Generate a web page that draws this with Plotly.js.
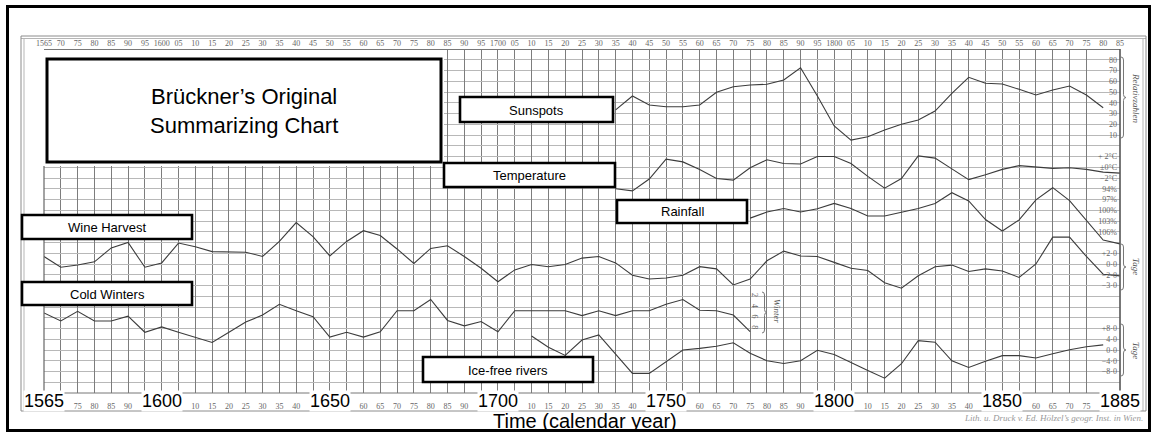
<!DOCTYPE html>
<html>
<head>
<meta charset="utf-8">
<script src="https://cdn.plot.ly/plotly-3.0.1.min.js"></script>
<style>
html,body{margin:0;padding:0;background:#fff;}
#chart{width:1155px;height:432px;}
</style>
</head>
<body>
<div id="chart"></div>
<script>
// ---------------- DATA ----------------
const sunspotYears  = [1735,1740,1745,1750,1755,1760,1765,1770,1775,1780,1785,1790,1795,1800,1805,1810,1815,1820,1825,1830,1835,1840,1845,1850,1855,1860,1865,1870,1875,1880];
const sunspotValues = [33.3,46.3,37.9,36.3,36.3,37.9,49.7,54.9,56.5,57.2,61.2,72.6,46.3,18.4,5.3,8.4,14.7,20.0,24.0,32.3,48.8,63.7,58.1,57.4,52.5,47.2,51.9,55.6,47.2,35.4];

const temperatureYears  = [1735,1740,1745,1750,1755,1760,1765,1770,1775,1780,1785,1790,1795,1800,1805,1810,1815,1820,1825,1830,1835,1840,1845,1850,1855,1860,1865,1870,1875,1880,1885];
const temperatureValues = [-4.0,-4.4,-2.2,1.5,1.0,-0.4,-2.1,-2.4,-0.1,1.4,0.7,0.6,2.0,2.0,0.7,-1.7,-3.9,-2.1,2.1,1.7,-0.3,-2.3,-1.4,-0.4,0.3,0.1,-0.2,-0.1,-0.4,-0.9,-1.1];

const rainfallYears  = [1775,1780,1785,1790,1795,1800,1805,1810,1815,1820,1825,1830,1835,1840,1845,1850,1855,1860,1865,1870,1875,1880,1885];
const rainfallValues = [102.2,100.5,99.5,100.5,99.6,98.1,99.5,101.6,101.6,100.6,99.5,98.1,95.1,97.4,102.6,105.8,102.7,97.1,93.7,97.3,102.7,108.3,109.4];

const wineYears  = [1565,1570,1575,1580,1585,1590,1595,1600,1605,1610,1615,1620,1625,1630,1635,1640,1645,1650,1655,1660,1665,1670,1675,1680,1685,1690,1695,1700,1705,1710,1715,1720,1725,1730,1735,1740,1745,1750,1755,1760,1765,1770,1775,1780,1785,1790,1795,1800,1805,1810,1815,1820,1825,1830,1835,1840,1845,1850,1855,1860,1865,1870,1875,1880,1885];
const wineValues = [1.4,-0.6,-0.2,0.4,3.0,4.0,-0.6,0.2,3.9,3.2,2.3,2.3,2.2,1.4,4.2,7.7,5.1,1.5,4.2,6.2,5.3,2.8,0.1,2.9,3.4,1.4,-0.8,-3.3,-1.1,-0.1,-0.5,-0.1,1.1,1.4,0.2,-2.1,-2.8,-2.6,-2.1,-0.5,-0.9,-3.9,-2.8,0.6,2.4,1.5,1.4,0.3,-0.8,-1.2,-3.5,-4.5,-2.2,-0.5,-0.2,-1.4,-0.9,-1.3,-2.5,0.0,5.0,5.0,1.4,-1.9,-2.2];

const winterYears  = [1565,1570,1575,1580,1585,1590,1595,1600,1605,1610,1615,1620,1625,1630,1635,1640,1645,1650,1655,1660,1665,1670,1675,1680,1685,1690,1695,1700,1705,1710,1715,1720,1725,1730,1735,1740,1745,1750,1755,1760,1765,1770,1775];
const winterValues = [5.1,6.6,4.8,6.6,6.6,5.7,8.7,7.7,8.7,9.6,10.6,8.7,6.8,5.5,3.5,4.7,5.8,9.6,8.7,9.6,8.6,4.7,4.7,2.6,6.5,7.5,6.7,8.6,4.7,4.7,4.7,4.7,5.6,4.7,5.6,4.7,4.7,3.5,2.6,4.6,4.7,5.5,8.6];

const iceYears  = [1710,1715,1720,1725,1730,1735,1740,1745,1750,1755,1760,1765,1770,1775,1780,1785,1790,1795,1800,1805,1810,1815,1820,1825,1830,1835,1840,1845,1850,1855,1860,1865,1870,1875,1880];
const iceValues = [5.2,1.0,-2.0,3.7,5.6,-1.4,-8.7,-8.7,-4.4,0.0,0.6,1.4,2.7,-1.2,-4.0,-5.0,-4.0,-0.1,-1.7,-4.8,-7.6,-10.5,-5.1,3.5,2.9,-4.0,-6.5,-4.2,-2.1,-2.1,-3.0,-1.4,0.1,1.2,1.9];

// tick labels
const topTickYears = [1565,1570,1575,1580,1585,1590,1595,1600,1605,1610,1615,1620,1625,1630,1635,1640,1645,1650,1655,1660,1665,1670,1675,1680,1685,1690,1695,1700,1705,1710,1715,1720,1725,1730,1735,1740,1745,1750,1755,1760,1765,1770,1775,1780,1785,1790,1795,1800,1805,1810,1815,1820,1825,1830,1835,1840,1845,1850,1855,1860,1865,1870,1875,1880];
const topTickText  = ['1565','70','75','80','85','90','95','1600','05','10','15','20','25','30','35','40','45','50','55','60','65','70','75','80','85','90','95','1700','05','10','15','20','25','30','35','40','45','50','55','60','65','70','75','80','85','90','95','1800','05','10','15','20','25','30','35','40','45','50','55','60','65','70','75','80'];
const topEdgeYear = 1885;
const topEdgeText = '85';
const bottomMinorYears = [1575,1580,1585,1590,1610,1615,1620,1625,1630,1635,1640,1660,1665,1670,1675,1680,1685,1690,1710,1715,1720,1725,1730,1735,1740,1760,1765,1770,1775,1780,1785,1790,1810,1815,1820,1825,1830,1835,1840,1860,1865,1870,1875];
const bottomMinorText  = ['75','80','85','90','10','15','20','25','30','35','40','60','65','70','75','80','85','90','10','15','20','25','30','35','40','60','65','70','75','80','85','90','10','15','20','25','30','35','40','60','65','70','75'];
const bottomMajorYears = [1565,1600,1650,1700,1750,1800,1850,1885];
const bottomMajorText  = ['1565','1600','1650','1700','1750','1800','1850','1885'];

const sunspotTickVals = [80,70,60,50,40,30,20,10];
const sunspotTickText = ['80','70','60','50','40','30','20','10'];
const temperatureTickVals = [2,0,-2];
const temperatureTickText = ['+ 2°C','±0°C','−2°C'];
const rainfallTickVals = [94,97,100,103,106];
const rainfallTickText = ['94%','97%','100%','103%','106%'];
const wineTickVals = [2,0,-2,-4];
const wineTickText = ['+2·0','0·0','−2·0','−3·0'];
const winterTickVals = [2,4,6,8];
const winterTickText = ['2','4','6','8'];
const iceTickVals = [8,4,0,-4,-8];
const iceTickText = ['+8·0','4·0','0·0','−4·0','−8·0'];

// ---------------- LAYOUT GEOMETRY ----------------
const W = 1155, H = 432, ML = 44, MR = 35, MT = 49, MB = 39;
const PW = W - ML - MR, PH = H - MT - MB;
const ROWS = 32;                 // horizontal grid rows
const px = x => (x - ML) / PW;   // pixel -> paper
const py = y => (H - MB - y) / PH;

// band scale of each series on the shared grid: value at a reference row, change per row
const scales = {
  sun:   {refRow: 1,  refVal: 80, perRow: -10},
  temp:  {refRow: 10, refVal: 2,  perRow: -2},
  rain:  {refRow: 13, refVal: 94, perRow: 3},
  wine:  {refRow: 19, refVal: 2,  perRow: -2},
  winter:{refRow: 23, refVal: 2,  perRow: 2},
  ice:   {refRow: 26, refVal: 8,  perRow: -4}
};
function axRange(s){
  return [s.refVal + (ROWS - s.refRow) * s.perRow, s.refVal - s.refRow * s.perRow];
}
const smallFont = {family:'Liberation Serif, DejaVu Serif, serif', size:8, color:'#666'};
const vGrid = '#7d7d7d', hGrid = '#b8b8b8';
function seriesAxis(s, vals, text, extra){
  return Object.assign({
    side:'right', range:axRange(s),
    tickmode:'array', tickvals:vals, ticktext:text,
    ticklabelposition:'inside', ticks:'', showgrid:false, zeroline:false, showline:false,
    tickfont:smallFont, fixedrange:true
  }, extra || {});
}

const lineStyle = {color:'#3c3c3c', width:1.1};
const traces = [
  {name:'Wine Harvest', x:wineYears, y:wineValues, xaxis:'x', yaxis:'y'},
  {name:'Sunspots', x:sunspotYears, y:sunspotValues, xaxis:'x2', yaxis:'y2'},
  {name:'Temperature', x:temperatureYears, y:temperatureValues, xaxis:'x', yaxis:'y3'},
  {name:'Rainfall', x:rainfallYears, y:rainfallValues, xaxis:'x', yaxis:'y4'},
  {name:'Cold Winters', x:winterYears, y:winterValues, xaxis:'x', yaxis:'y5'},
  {name:'Ice-free rivers', x:iceYears, y:iceValues, xaxis:'x', yaxis:'y6'}
].map(t => Object.assign({type:'scatter', mode:'lines', line:lineStyle, showlegend:false, hoverinfo:'x+y'}, t));

// ---------------- SHAPES ----------------
const shapes = [];
function rectPx(x0,y0,x1,y1,line,fill){
  shapes.push({type:'rect', xref:'paper', yref:'paper', layer:'above',
    x0:px(x0), x1:px(x1), y0:py(y1), y1:py(y0),
    line: line || {width:0}, fillcolor: fill || 'rgba(0,0,0,0)'});
}
function linePx(x0,y0,x1,y1,color,width){
  shapes.push({type:'line', xref:'paper', yref:'paper', layer:'above',
    x0:px(x0), x1:px(x1), y0:py(y0), y1:py(y1), line:{color:color, width:width}});
}
function bracePx(x, y0, y1, w, color){
  const ym = (y0 + y1) / 2;
  const P = (a,b) => px(a).toFixed(5) + ',' + py(b).toFixed(5);
  const path = 'M' + P(x, y0) + ' Q' + P(x + w, y0) + ' ' + P(x + w, y0 + 3) +
               ' L' + P(x + w, ym - 3) + ' Q' + P(x + w, ym) + ' ' + P(x + 2*w, ym) +
               ' Q' + P(x + w, ym) + ' ' + P(x + w, ym + 3) +
               ' L' + P(x + w, y1 - 3) + ' Q' + P(x + w, y1) + ' ' + P(x, y1);
  shapes.push({type:'path', xref:'paper', yref:'paper', layer:'above', path:path, line:{color:color, width:1}});
}

// blank upper-left area of the sheet
rectPx(38, 47, 444, 166, {width:0}, '#ffffff');
// grid boundary
linePx(44, 49.5, 1120, 49.5, '#777', 1);
linePx(44, 166, 44, 393, '#666', 1.2);
linePx(1120, 49, 1120, 393, '#555', 1.6);
linePx(44, 393, 1120, 393, '#777', 1);
// scanned sheet frame (double lines)
linePx(21, 36, 1146, 36, '#8c8c8c', 1);
linePx(21, 38.5, 1146, 38.5, '#b5b5b5', 1);
linePx(21, 36, 21, 411, '#8c8c8c', 1);
linePx(24, 38.5, 24, 411, '#b5b5b5', 1);
linePx(1143, 38.5, 1143, 411, '#b5b5b5', 1);
linePx(1146, 36, 1146, 411, '#8c8c8c', 1);
linePx(21, 411, 1146, 411, '#8c8c8c', 1);
// braces
bracePx(1121, 57, 138, 2.5, '#777');
bracePx(1121, 244, 290, 2.5, '#777');
bracePx(1121, 324, 376, 2.5, '#777');
bracePx(762, 292, 333, 2.5, '#777');
// label boxes
const boxLine = {color:'#000', width:2.6};
rectPx(47, 59, 441, 162, {color:'#000', width:3}, '#ffffff');
rectPx(460, 97, 613, 122, boxLine, '#ffffff');
rectPx(444, 163, 615, 187, boxLine, '#ffffff');
rectPx(617, 200, 747, 223, boxLine, '#ffffff');
rectPx(22, 215, 192, 239, boxLine, '#ffffff');
rectPx(22, 282, 192, 305, boxLine, '#ffffff');
rectPx(423, 357, 593, 382, boxLine, '#ffffff');
// outer black border
rectPx(7.5, 6.5, 1149.5, 430.5, {color:'#000', width:3}, 'rgba(0,0,0,0)');

// ---------------- ANNOTATIONS ----------------
const sans = 'Liberation Sans, Arial, Helvetica, sans-serif';
const serifSmall = {family:'Liberation Serif, serif', size:9, color:'#555'};
function txt(x, y, text, size, extra){
  return Object.assign({xref:'paper', yref:'paper', x:px(x), y:py(y), text:text, showarrow:false,
    xanchor:'center', yanchor:'middle', font:{family:sans, size:size, color:'#000'}}, extra || {});
}
const annotations = [
  txt(244, 111, 'Brückner’s Original<br>Summarizing Chart', 22),
  txt(536.5, 110, 'Sunspots', 13),
  txt(529.5, 175.5, 'Temperature', 13),
  txt(682, 212, 'Rainfall', 13),
  txt(107, 227.5, 'Wine Harvest', 13),
  txt(107, 294, 'Cold Winters', 13),
  txt(508, 370, 'Ice-free rivers', 13),
  txt(585, 420.5, 'Time (calendar year)', 20),
  txt(1136, 98, '<i>Relativzahlen</i>', 9, {textangle:90, font:serifSmall}),
  txt(1136, 266, '<i>Tage</i>', 9, {textangle:90, font:serifSmall}),
  txt(1136, 350, '<i>Tage</i>', 9, {textangle:90, font:serifSmall}),
  txt(777, 311, '<i>Winter</i>', 9, {textangle:90, font:serifSmall}),
  txt(1145, 418, '<i>Lith. u. Druck v. Ed. Hölzel’s geogr. Inst. in Wien.</i>', 9,
      {xanchor:'right', font:{family:'Liberation Serif, serif', size:9, color:'#999'}}),
  // top-row label at the right edge (Plotly hides an axis label placed on the corner)
  {xref:'x', yref:'paper', x:topEdgeYear, y:py(43.5), text:topEdgeText, showarrow:false,
   xanchor:'center', yanchor:'middle', font:smallFont}
];
bottomMajorYears.forEach((yr, i) => {
  annotations.push({xref:'x', yref:'paper', x:yr, y:py(401), text:bottomMajorText[i], showarrow:false,
    xanchor:'center', yanchor:'middle', bgcolor:'#ffffff', borderpad:0,
    font:{family:sans, size:18, color:'#000'}});
});

// ---------------- LAYOUT ----------------
const xRange = [1565, 1885];
const layout = {
  width:W, height:H,
  margin:{l:ML, r:MR, t:MT, b:MB, pad:0},
  paper_bgcolor:'#ffffff', plot_bgcolor:'rgba(0,0,0,0)',
  showlegend:false,
  xaxis:{domain:[0,1], range:xRange, side:'bottom', anchor:'y',
         tickmode:'array', tickvals:bottomMinorYears, ticktext:bottomMinorText,
         showgrid:true, gridcolor:vGrid, gridwidth:1,
         minor:{tickmode:'linear', tick0:1565, dtick:5, showgrid:true, gridcolor:vGrid, gridwidth:1, ticks:''},
         ticks:'outside', ticklen:5, tickcolor:'rgba(0,0,0,0)', tickfont:smallFont,
         zeroline:false, showline:false, fixedrange:true},
  xaxis2:{overlaying:'x', anchor:'y5', side:'top', range:xRange, tickmode:'array',
          tickvals:topTickYears, ticktext:topTickText, showgrid:false, zeroline:false,
          showline:false, ticks:'', tickfont:smallFont, fixedrange:true},
  yaxis: seriesAxis(scales.wine, wineTickVals, wineTickText,
          {domain:[0,1], anchor:'x', showgrid:true, gridcolor:hGrid, gridwidth:1,
           minor:{tickmode:'linear', tick0:0, dtick:Math.abs(scales.wine.perRow), showgrid:true, gridcolor:hGrid, gridwidth:1, ticks:''}}),
  yaxis2: seriesAxis(scales.sun, sunspotTickVals, sunspotTickText, {overlaying:'y', anchor:'x'}),
  yaxis3: seriesAxis(scales.temp, temperatureTickVals, temperatureTickText, {overlaying:'y', anchor:'x'}),
  yaxis4: seriesAxis(scales.rain, rainfallTickVals, rainfallTickText, {overlaying:'y', anchor:'x'}),
  yaxis5: seriesAxis(scales.winter, winterTickVals, winterTickText,
          {overlaying:'y', anchor:'free', position:px(760), side:'left', ticklabelposition:'outside', tickangle:90}),
  yaxis6: seriesAxis(scales.ice, iceTickVals, iceTickText, {overlaying:'y', anchor:'x'}),
  shapes: shapes,
  annotations: annotations
};

Plotly.newPlot('chart', traces, layout, {staticPlot:true, displayModeBar:false});
</script>
</body>
</html>
